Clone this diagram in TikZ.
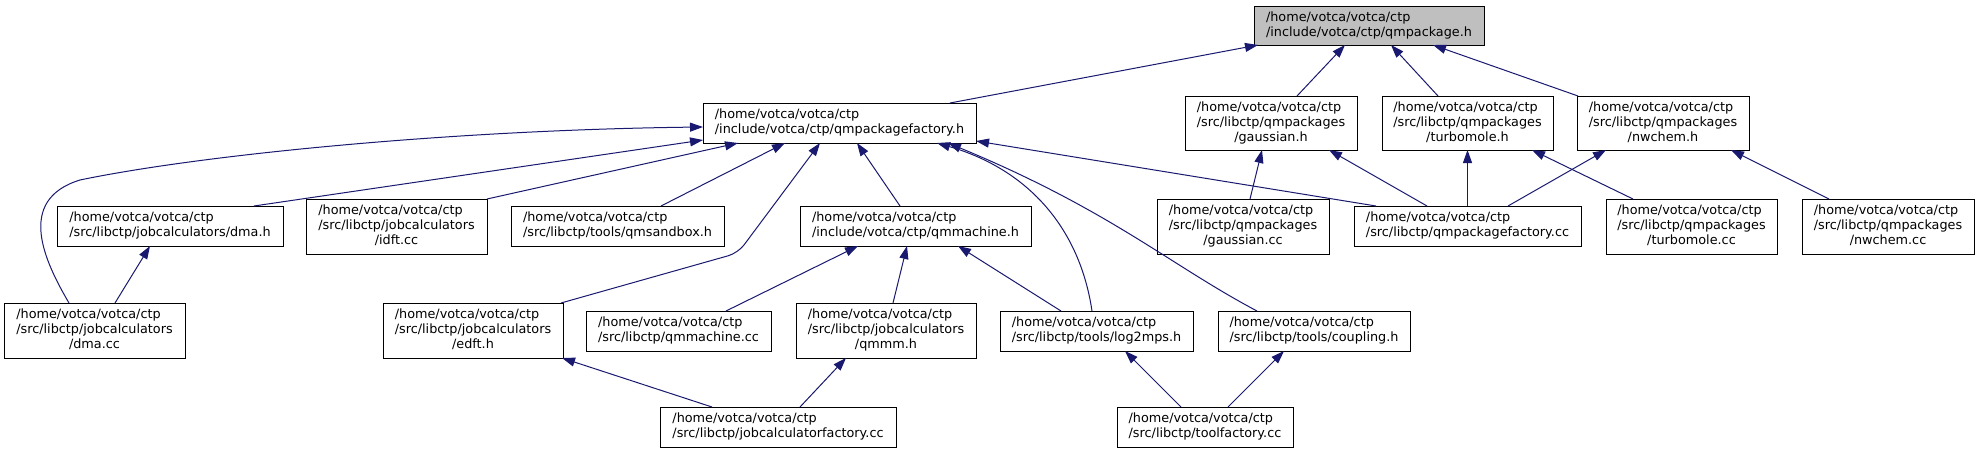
\documentclass[tikz,border=0pt]{standalone}
\usepackage{fontspec}
\setmainfont{DejaVu Sans}
\usetikzlibrary{arrows.meta,calc}
\definecolor{edgeblue}{RGB}{25,25,112}
\definecolor{nodegray}{RGB}{191,191,191}
\newcommand{\twol}[2]{\begin{tabular}{@{}l@{}}#1\\#2\end{tabular}}
\newcommand{\threel}[3]{\begin{tabular}{@{}l@{}}#1\\#2\\\multicolumn{1}{@{}c@{}}{#3}\end{tabular}}
\newcommand{\hv}{/home/votca/votca/ctp}
\begin{document}
\begin{tikzpicture}[x=1pt,y=-1pt,
  box/.style={draw=black, line width=1pt, fill=white, inner sep=0pt, align=center,
    font=\fontsize{12.8}{15}\selectfont, text=black},
  boxtwo/.style={box, minimum height=40},
  boxthree/.style={box, minimum height=55},
  edge/.style={draw=edgeblue, line width=1pt, -{Triangle[length=13pt,width=9pt]}}]
\useasboundingbox (0,0) rectangle (1979,453);
\fill[white] (0,0) rectangle (1979,453);
% nodes
\node[boxtwo, fill=nodegray, minimum width=230, minimum height=39] (A) at (1369,25.5) {\twol{\hv}{/include/votca/ctp/qmpackage.h}};
\node[boxtwo, minimum width=273] (B) at (839.5,123) {\twol{\hv}{/include/votca/ctp/qmpackagefactory.h}};
\node[boxthree, minimum width=172, minimum height=54] (C) at (1271,123) {\threel{\hv}{/src/libctp/qmpackages}{/gaussian.h}};
\node[boxthree, minimum width=171, minimum height=54] (D) at (1467.5,123) {\threel{\hv}{/src/libctp/qmpackages}{/turbomole.h}};
\node[boxthree, minimum width=172, minimum height=54] (E) at (1663,123) {\threel{\hv}{/src/libctp/qmpackages}{/nwchem.h}};
\node[boxtwo, minimum width=226] (F) at (170,226) {\twol{\hv}{/src/libctp/jobcalculators/dma.h}};
\node[boxthree, minimum width=181] (G) at (396.5,226.5) {\threel{\hv}{/src/libctp/jobcalculators}{/idft.cc}};
\node[boxtwo, minimum width=213] (H) at (617.5,226) {\twol{\hv}{/src/libctp/tools/qmsandbox.h}};
\node[boxtwo, minimum width=231] (I) at (915.5,226) {\twol{\hv}{/include/votca/ctp/qmmachine.h}};
\node[boxthree, minimum width=172] (J) at (1243,226.5) {\threel{\hv}{/src/libctp/qmpackages}{/gaussian.cc}};
\node[boxtwo, minimum width=227] (K) at (1467.5,226) {\twol{\hv}{/src/libctp/qmpackagefactory.cc}};
\node[boxthree, minimum width=171] (L) at (1691.5,226.5) {\threel{\hv}{/src/libctp/qmpackages}{/turbomole.cc}};
\node[boxthree, minimum width=172] (M) at (1888,226.5) {\threel{\hv}{/src/libctp/qmpackages}{/nwchem.cc}};
\node[boxthree, minimum width=181] (N) at (94.5,330.5) {\threel{\hv}{/src/libctp/jobcalculators}{/dma.cc}};
\node[boxthree, minimum width=180] (O) at (473,330.5) {\threel{\hv}{/src/libctp/jobcalculators}{/edft.h}};
\node[boxtwo, minimum width=185] (P) at (678.5,331) {\twol{\hv}{/src/libctp/qmmachine.cc}};
\node[boxthree, minimum width=180] (Q) at (886,330.5) {\threel{\hv}{/src/libctp/jobcalculators}{/qmmm.h}};
\node[boxtwo, minimum width=193] (R) at (1096.5,331) {\twol{\hv}{/src/libctp/tools/log2mps.h}};
\node[boxtwo, minimum width=192] (S) at (1314,331) {\twol{\hv}{/src/libctp/tools/coupling.h}};
\node[boxtwo, minimum width=236] (T) at (778,427) {\twol{\hv}{/src/libctp/jobcalculatorfactory.cc}};
\node[boxtwo, minimum width=176] (U) at (1205,427) {\twol{\hv}{/src/libctp/toolfactory.cc}};
% edges into A
\draw[edge] ($(B)+(110.5,-20)$) -- ($(A)+(-111,19.5)$);
\draw[edge] ($(C)+(26,-27)$) -- ($(A)+(-24,19.5)$);
\draw[edge] ($(D)+(-29.5,-27)$) -- ($(A)+(22,19.5)$);
\draw[edge] ($(E)+(-85,-27)$) -- ($(A)+(64,19.5)$);
% edges into B
\draw[edge] ($(N)+(-25.5,-27.5)$) .. controls (45,262) and (15,200) .. (80,180)
  .. controls (200,155) and (450,130) .. ($(B)+(-136.5,4)$);
\draw[edge] ($(F)+(84,-20)$) -- ($(B)+(-136.5,17)$);
\draw[edge] ($(G)+(90.5,-27.5)$) -- ($(B)+(-101.5,20)$);
\draw[edge] ($(H)+(43.5,-20)$) -- ($(B)+(-54.5,20)$);
\draw[edge, rounded corners=10pt] ($(O)+(88,-27.5)$) -- (738,253) -- ($(B)+(-19.5,20)$);
\draw[edge] ($(I)+(-15.5,-20)$) -- ($(B)+(17.5,20)$);
\draw[edge] ($(R)+(-4.5,-20)$) .. controls (1080,230) and (1030,170) .. ($(B)+(97.5,20)$);
\draw[edge] ($(S)+(-57,-20)$) .. controls (1170,265) and (1110,210) .. ($(B)+(108.5,20)$);
\draw[edge] ($(K)+(-91.5,-20)$) -- ($(B)+(136.5,18)$);
% edges into I
\draw[edge] ($(Q)+(7,-27.5)$) -- ($(I)+(-8.5,20)$);
\draw[edge] ($(P)+(47.5,-20)$) -- ($(I)+(-57.5,20)$);
\draw[edge] ($(R)+(-35.5,-20)$) -- ($(I)+(42.5,20)$);
% bottom row edges
\draw[edge] ($(T)+(-66,-20)$) -- ($(O)+(89,27.5)$);
\draw[edge] ($(T)+(22,-20)$) -- ($(Q)+(-40,27.5)$);
\draw[edge] ($(U)+(-24,-20)$) -- ($(R)+(28.5,20)$);
\draw[edge] ($(U)+(23,-20)$) -- ($(S)+(-30,20)$);
\draw[edge] ($(N)+(20.5,-27.5)$) -- ($(F)+(-20,20)$);
% qmpackages edges
\draw[edge] ($(J)+(7,-27.5)$) -- ($(C)+(-9,27)$);
\draw[edge] ($(K)+(-40.5,-20)$) -- ($(C)+(58,27)$);
\draw[edge] ($(K)+(0,-20)$) -- ($(D)+(0,27)$);
\draw[edge] ($(K)+(40.5,-20)$) -- ($(E)+(-57,27)$);
\draw[edge] ($(L)+(-58.5,-27.5)$) -- ($(D)+(64.5,27)$);
\draw[edge] ($(M)+(-59,-27.5)$) -- ($(E)+(68,27)$);
\end{tikzpicture}
\end{document}
